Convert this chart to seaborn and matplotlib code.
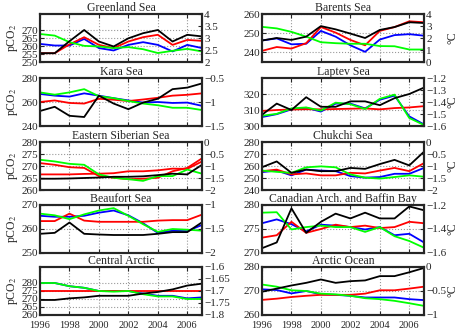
import numpy as np
import pandas as pd
import seaborn as sns
import matplotlib
matplotlib.use('Agg')
import matplotlib.pyplot as plt
from matplotlib.ticker import FuncFormatter

# anos
years = [1996, 1997, 1998, 1999, 2000, 2001, 2002, 2003, 2004, 2005, 2006, 2007]

# Greenland Sea
greenland_blue = [261.3, 260.3, 260.3, 264.4, 258.7, 257.2, 260.7, 262.4, 260.7, 256.6, 260.7, 258.7]
greenland_red = [255.5, 255.5, 261.0, 265.5, 260.7, 258.7, 262.8, 265.5, 267.0, 260.7, 263.8, 263.2]
greenland_green = [267.5, 266.5, 262.4, 260.1, 259.7, 258.7, 259.3, 258.0, 255.6, 257.0, 258.2, 256.6]
greenland_black = [255.5, 255.5, 263.0, 270.0, 262.8, 259.7, 264.8, 268.0, 270.0, 262.8, 267.0, 266.0]

# Barents Sea
barents_blue = [246.2, 247.3, 244.2, 244.5, 251.2, 248.2, 243.7, 240.3, 246.7, 249.0, 249.5, 248.7]
barents_red = [240.8, 242.8, 242.0, 244.8, 253.2, 250.3, 246.5, 243.7, 251.2, 253.2, 256.2, 255.7]
barents_green = [253.3, 252.5, 250.7, 248.2, 245.3, 244.8, 244.5, 244.5, 243.3, 243.2, 241.5, 241.5]
barents_black = [246.2, 247.5, 246.5, 248.2, 253.7, 252.0, 249.8, 247.5, 251.7, 253.2, 255.7, 255.3]

# Kara Sea
kara_blue = [266.7, 265.3, 264.5, 267.2, 265.3, 263.2, 261.3, 259.5, 260.0, 259.2, 259.5, 256.8]
kara_red = [260.0, 261.3, 259.2, 258.7, 262.7, 261.9, 260.8, 262.1, 263.5, 265.3, 266.0, 267.2]
kara_green = [268.0, 266.1, 268.0, 270.7, 264.8, 263.2, 260.8, 258.7, 257.3, 255.2, 255.2, 253.3]
kara_black = [252.5, 256.0, 248.5, 247.5, 265.3, 258.7, 254.0, 259.5, 262.7, 270.7, 272.0, 275.5]

# Laptev Sea
laptev_blue = [305.6, 307.4, 310.4, 311.4, 309.0, 314.0, 314.0, 311.0, 316.4, 319.0, 306.0, 301.0]
laptev_red = [309.4, 310.0, 310.3, 310.5, 310.4, 310.6, 310.8, 311.0, 310.4, 311.2, 311.6, 312.4]
laptev_green = [306.4, 307.6, 311.0, 311.6, 309.6, 314.6, 313.6, 310.6, 317.0, 319.6, 305.0, 300.6]
laptev_black = [307.0, 314.0, 310.0, 318.0, 312.0, 312.0, 315.4, 315.4, 313.0, 317.4, 320.0, 324.0]

# Eastern Siberian Sea (duas curvas vermelhas)
ess_red_upper = [271.2, 270.5, 269.5, 269.2, 265.8, 265.1, 264.5, 264.7, 265.1, 267.8, 269.2, 273.2]
ess_red = [266.5, 266.5, 266.5, 266.7, 266.8, 267.0, 267.8, 267.8, 268.2, 268.9, 268.8, 271.9]
ess_green = [272.6, 271.9, 270.9, 270.5, 266.5, 265.1, 264.5, 263.8, 265.8, 265.8, 268.5, 266.8]
ess_black = [264.7, 264.7, 264.8, 265.0, 265.2, 265.5, 265.5, 265.7, 266.2, 266.8, 266.5, 270.5]

# Chukchi Sea
chukchi_blue = [254.9, 256.2, 252.2, 257.0, 256.2, 255.7, 251.6, 250.3, 250.8, 253.5, 253.5, 258.4]
chukchi_red = [255.7, 257.0, 253.0, 253.8, 252.2, 252.2, 254.3, 253.8, 256.2, 258.4, 255.7, 262.4]
chukchi_green = [256.2, 255.1, 254.3, 258.9, 259.7, 258.9, 253.0, 250.3, 249.5, 250.8, 252.2, 251.1]
chukchi_black = [259.0, 263.8, 254.3, 257.0, 255.7, 255.7, 258.4, 257.6, 261.6, 265.1, 260.5, 271.9]

# Beaufort Sea
beaufort_blue = [265.5, 265.1, 265.1, 265.5, 266.8, 267.7, 265.7, 262.4, 258.4, 259.3, 259.1, 261.7]
beaufort_red = [263.3, 263.3, 266.4, 263.5, 263.0, 263.0, 263.0, 263.0, 263.5, 263.7, 263.7, 266.0]
beaufort_green = [266.4, 265.7, 264.1, 266.1, 267.7, 268.7, 265.5, 262.0, 258.8, 260.0, 259.7, 259.3]
beaufort_black = [258.0, 258.4, 262.7, 258.0, 257.7, 257.5, 257.5, 257.5, 258.0, 258.7, 258.7, 262.8]

# Canadian Arch. and Baffin Bay
canadian_blue = [276.2, 277.0, 276.0, 274.5, 275.9, 275.7, 275.4, 274.9, 275.4, 273.7, 274.0, 272.2]
canadian_red = [273.2, 273.7, 276.5, 274.2, 275.0, 275.9, 275.4, 275.7, 275.2, 275.4, 276.5, 276.2]
canadian_green = [278.4, 278.5, 274.9, 275.4, 275.7, 275.4, 275.4, 274.4, 275.4, 273.5, 272.5, 271.1]
canadian_black = [271.0, 272.2, 279.3, 274.2, 276.5, 278.2, 277.2, 278.4, 277.2, 277.2, 279.7, 278.9]

# Central Arctic
central_blue = [280.0, 280.0, 278.0, 277.0, 275.0, 275.0, 275.0, 273.4, 272.0, 272.0, 270.4, 271.0]
central_red = [275.0, 275.0, 275.0, 275.0, 275.0, 275.0, 275.0, 275.0, 275.0, 275.0, 275.0, 275.0]
central_green = [280.0, 280.0, 278.0, 277.0, 275.0, 274.6, 275.0, 273.0, 271.6, 271.6, 270.0, 270.0]
central_black = [269.4, 269.4, 270.4, 271.0, 272.0, 272.0, 272.0, 273.4, 274.4, 276.0, 278.4, 279.6]

# Arctic Ocean
arctic_blue = [270.7, 270.4, 269.0, 270.0, 268.6, 268.4, 268.0, 267.3, 267.3, 267.3, 266.6, 266.2]
arctic_red = [266.3, 266.8, 267.5, 268.0, 268.4, 268.4, 268.4, 268.9, 270.3, 270.3, 271.0, 271.8]
arctic_green = [272.7, 271.8, 270.3, 270.0, 268.9, 268.6, 268.0, 267.0, 266.6, 265.9, 264.9, 263.8]
arctic_black = [269.7, 271.0, 272.3, 273.4, 274.8, 273.4, 274.1, 274.4, 276.2, 276.2, 277.8, 279.6]

BLUE, RED, GREEN, BLACK = '#0000ff', '#ff0000', '#00ff00', '#000000'

paineis = [
    ('Greenland Sea', [(greenland_blue, BLUE), (greenland_red, RED), (greenland_green, GREEN), (greenland_black, BLACK)],
     (250, 280), [250, 255, 260, 265, 270], (2, 4), [2, 2.5, 3, 3.5, 4]),
    ('Barents Sea', [(barents_blue, BLUE), (barents_red, RED), (barents_green, GREEN), (barents_black, BLACK)],
     (235, 260), [240, 250, 260], (0, 4), [0, 1, 2, 3, 4]),
    ('Kara Sea', [(kara_blue, BLUE), (kara_red, RED), (kara_green, GREEN), (kara_black, BLACK)],
     (240, 280), [240, 260, 280], (-1.5, -0.5), [-1.5, -1, -0.5]),
    ('Laptev Sea', [(laptev_blue, BLUE), (laptev_red, RED), (laptev_green, GREEN), (laptev_black, BLACK)],
     (300, 330), [300, 310, 320], (-1.6, -1.2), [-1.6, -1.5, -1.4, -1.3, -1.2]),
    ('Eastern Siberian Sea', [(ess_red_upper, RED), (ess_red, RED), (ess_green, GREEN), (ess_black, BLACK)],
     (260, 280), [260, 265, 270, 275, 280], (-2, 0), [-2, -1.5, -1, -0.5, 0]),
    ('Chukchi Sea', [(chukchi_blue, BLUE), (chukchi_red, RED), (chukchi_green, GREEN), (chukchi_black, BLACK)],
     (240, 280), [240, 250, 260, 270, 280], (-2, 0), [-2, -1.5, -1, -0.5, 0]),
    ('Beaufort Sea', [(beaufort_blue, BLUE), (beaufort_red, RED), (beaufort_green, GREEN), (beaufort_black, BLACK)],
     (250, 270), [250, 260, 270], (-2, -1), [-2, -1.5, -1]),
    ('Canadian Arch. and Baffin Bay', [(canadian_blue, BLUE), (canadian_red, RED), (canadian_green, GREEN), (canadian_black, BLACK)],
     (270, 280), [270, 275, 280], (-1.6, -1.2), [-1.6, -1.4, -1.2]),
    ('Central Arctic', [(central_blue, BLUE), (central_red, RED), (central_green, GREEN), (central_black, BLACK)],
     (260, 290), [260, 265, 270, 275, 280], (-1.8, -1.6), [-1.8, -1.75, -1.7, -1.65, -1.6]),
    ('Arctic Ocean', [(arctic_blue, BLUE), (arctic_red, RED), (arctic_green, GREEN), (arctic_black, BLACK)],
     (260, 280), [260, 270, 280], (-1, 0), [-1, -0.5, 0]),
]

sns.set_style('white')
plt.rcParams['font.family'] = ['Liberation Serif', 'DejaVu Serif']
plt.rcParams['mathtext.fontset'] = 'stix'

fmt = FuncFormatter(lambda v, p: f'{v:g}'.replace('-', '\u2212'))

fig = plt.figure(figsize=(4.67, 3.33), dpi=100)
lefts = [40 / 467, 262 / 467]
tops = [14, 78, 142, 205, 267]
W, H = 162 / 467, 48 / 333

for i, (nome, linhas, ylim, yticks, rlim, rticks) in enumerate(paineis):
    row, col = i // 2, i % 2
    ax = fig.add_axes([lefts[col], 1 - (tops[row] + 48) / 333, W, H])
    for vals, cor in linhas:
        sns.lineplot(x=years, y=vals, color=cor, lw=1.3, ax=ax)
    ax.set_xlim(1996, 2007)
    ax.set_ylim(*ylim)
    ax.set_xticks([1996, 1998, 2000, 2002, 2004, 2006])
    ax.set_yticks(yticks)
    ax.yaxis.set_major_formatter(fmt)
    ax.grid(True, ls=':', color='#999999', lw=0.8)
    ax.tick_params(direction='in', length=3, labelsize=8, pad=1.5, top=True, bottom=True, left=True)
    ax.tick_params(axis='x', pad=4.5, labelsize=7.5)
    if row < 4:
        ax.set_xticklabels([])
    ax.set_title(nome, fontsize=8.5, pad=2)
    if col == 0:
        ax.set_ylabel('pCO$_2$', fontsize=8.5, labelpad=1)
    for s in ax.spines.values():
        s.set_linewidth(1.5)
    ax2 = ax.twinx()
    ax2.set_ylim(*rlim)
    ax2.set_yticks(rticks)
    ax2.yaxis.set_major_formatter(fmt)
    ax2.tick_params(direction='in', length=3, labelsize=8, pad=1.5, right=True)
    for s in ax2.spines.values():
        s.set_linewidth(1.5)
    if col == 1:
        ax2.set_ylabel('\u00b0C', fontsize=8.5)
        ax2.yaxis.set_label_coords(1.14, 0.5)

fig.savefig('out.png', dpi=100)
